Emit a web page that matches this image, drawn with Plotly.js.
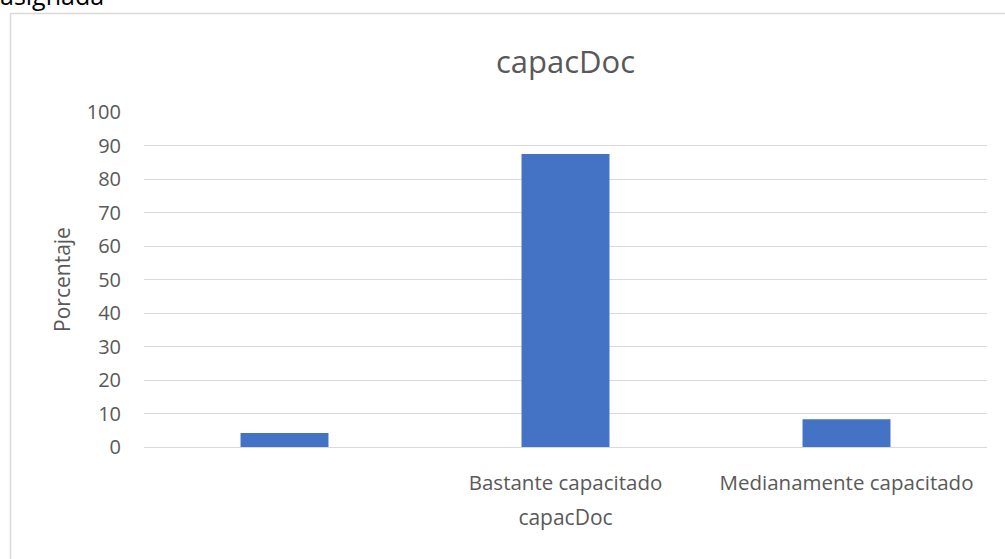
<!DOCTYPE html>
<html>
<head>
<meta charset="utf-8">
<script src="https://cdn.plot.ly/plotly-3.0.1.min.js"></script>
<style>
html,body{margin:0;padding:0;background:#fff;}
#chart{width:1005px;height:559px;}
</style>
</head>
<body>
<div id="chart"></div>
<script>
const categories = [" ", "Bastante capacitado", "Medianamente capacitado"];
const values = [4.2, 87.5, 8.3];
const yTicks = [0, 10, 20, 30, 40, 50, 60, 70, 80, 90, 100];

const W = 1005, H = 559;
const L = 144, R = 18, T = 112, B = 112;
const pw = W - L - R, ph = H - T - B;
function px(x){ return (x - L) / pw; }
function py(y){ return (H - B - y) / ph; }

const font = "'Open Sans', 'Noto Sans', sans-serif";
const grey = '#595959';

const data = [{
  type: 'bar',
  x: categories,
  y: values,
  marker: {color: '#4472C4'},
  hoverinfo: 'x+y'
}];

const layout = {
  width: W, height: H,
  margin: {l: L, r: R, t: T, b: B, pad: 0},
  paper_bgcolor: '#fff',
  plot_bgcolor: '#fff',
  bargap: 0.687,
  showlegend: false,
  font: {family: font, color: grey, size: 20},
  title: {
    text: 'capacDoc',
    font: {family: font, size: 31, color: grey},
    x: 0.5, xref: 'paper', xanchor: 'center',
    y: 1 - 62 / H, yref: 'container', yanchor: 'middle'
  },
  xaxis: {
    type: 'category',
    tickfont: {family: font, size: 20.5, color: grey},
    showgrid: false,
    showline: false,
    zeroline: false,
    ticks: 'outside',
    ticklen: 17,
    tickcolor: 'rgba(0,0,0,0)',
    title: {text: 'capacDoc', font: {family: font, size: 21, color: grey}, standoff: 15}
  },
  yaxis: {
    range: [0, 100],
    tickvals: yTicks,
    ticktext: yTicks.map(String),
    tickfont: {family: font, size: 20, color: grey},
    showgrid: true,
    gridcolor: '#d9d9d9',
    gridwidth: 1,
    zeroline: true,
    zerolinecolor: '#d9d9d9',
    zerolinewidth: 1,
    showline: false,
    ticks: 'outside',
    ticklen: 18,
    tickcolor: 'rgba(0,0,0,0)',
    title: {text: 'Porcentaje', font: {family: font, size: 21, color: grey}, standoff: 10}
  },
  shapes: [{
    type: 'rect', xref: 'paper', yref: 'paper',
    x0: px(10.5), x1: px(1010), y0: py(565), y1: py(13.5),
    line: {color: '#d9d9d9', width: 1.5},
    fillcolor: 'rgba(0,0,0,0)',
    layer: 'below'
  }],
  annotations: [{
    text: 'asignada',
    xref: 'paper', yref: 'paper',
    x: px(-2), y: py(14),
    xanchor: 'left', yanchor: 'bottom',
    showarrow: false,
    font: {family: font, size: 25, color: '#000'}
  }]
};

Plotly.newPlot('chart', data, layout, {displayModeBar: false, staticPlot: true});
</script>
</body>
</html>
